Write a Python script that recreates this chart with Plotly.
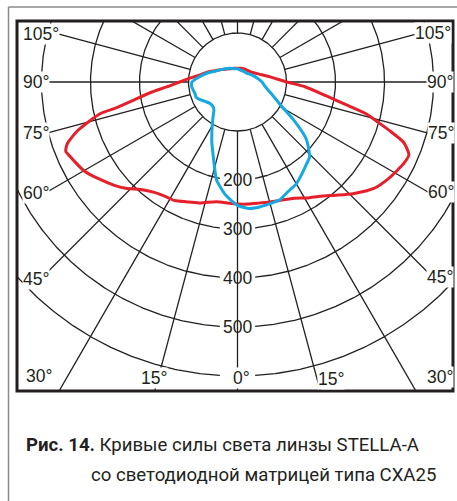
import numpy as np
import plotly.graph_objects as go

# Luminous intensity curves: angle from the nadir (deg, + to the right) and intensity
red_angle = [-180, -165, -150, -135, -120, -110, -100, -95, -90, -86, -83, -80, -78, -77,
             -73, -70, -68, -66, -63, -60, -55, -50, -46, -42, -37, -32, -28, -22, -17,
             -10, -4, 0, 5, 10, 14, 20, 26, 31, 36, 41, 46, 52, 58, 64, 67, 70, 72, 74,
             76, 78, 81, 86, 90, 99, 110, 120, 130, 142, 155, 167, 180]
red_cd = [28, 29, 31, 37, 48, 62, 80, 96, 118, 145, 180, 216, 252, 288,
          342, 370, 378, 374, 368, 362, 345, 328, 313, 295, 282, 276, 274, 264, 258,
          248, 248, 249, 250, 251, 253, 257, 264, 276, 288, 306, 328, 353, 367, 378, 380, 361, 330, 299,
          272, 230, 185, 138, 100, 67, 47, 38, 33, 31, 30, 29, 28]

blue_angle = [-180, -165, -151, -129, -113, -106, -95, -90, -84, -80, -75, -70, -66, -60,
              -52, -44, -40, -34, -28, -23, -18, -15, -12, -6, 0, 5, 10, 15, 20, 25, 30,
              35, 40, 44, 46, 50, 52, 56, 62, 68, 75, 82, 90, 100, 115, 133, 150, 167, 180]
blue_cd = [27, 28, 32, 41, 54, 65, 84, 93, 94, 92, 90, 90, 86, 78,
           71, 71, 75, 90, 111, 134, 160, 181, 205, 232, 252, 259, 259, 257, 255, 246, 240,
           229, 219, 212, 203, 184, 170, 138, 99, 80, 65, 56, 50, 42, 33, 26, 25, 25, 27]

# Grid
inner_ring = 100
ring_values = [200, 300, 400, 500, 600]
ring_labels = ["200", "300", "400", "500"]
ray_angles = list(range(-165, 181, 15))

angle_label_text = ["105°", "90°", "75°", "60°", "45°", "30°", "15°", "0°",
                    "15°", "30°", "45°", "60°", "75°", "90°", "105°"]

# page-pixel placement of the frame and the pole
PX = 0.49            # pixels per cd
CX, CY = 237.5, 82.0
FL, FR, FT, FB = 17, 453, 21, 391
W, H = 457, 501

# page-pixel centres of the angle labels (same order as angle_label_text)
angle_label_pos = [(41, 34), (36, 82), (36, 133), (36, 193), (36, 279), (39, 376), (154, 378),
                   (241, 378), (331, 379), (440, 377), (440, 277), (441, 192), (441, 133),
                   (440, 82), (433, 33)]


def polar_xy(theta_deg, r):
    t = np.radians(np.asarray(theta_deg, dtype=float))
    r = np.asarray(r, dtype=float)
    return r * np.sin(t), -r * np.cos(t)


def px_to_data(px, py):
    return (px - CX) / PX, (CY - py) / PX


GRID = "#231f20"
fig = go.Figure()

# rays from the inner circle outward
for a in ray_angles:
    aa = abs(a)
    if 45 <= aa <= 105:
        r_end = 200 / PX / np.sin(np.radians(aa))
    else:
        r_end = 2000
    x, y = polar_xy([a, a], [inner_ring, r_end])
    fig.add_trace(go.Scatter(x=x, y=y, mode="lines", line=dict(color=GRID, width=1.3),
                             hoverinfo="skip", showlegend=False))

# rings, opened around the nadir where the value labels sit
for rv in ring_values:
    gap = np.degrees(np.arcsin(min(1.0, 36 / rv)))
    th = np.linspace(gap, 360 - gap, 721)
    x, y = polar_xy(th, np.full_like(th, rv))
    fig.add_trace(go.Scatter(x=x, y=y, mode="lines", line=dict(color=GRID, width=1.3),
                             hoverinfo="skip", showlegend=False))

# inner circle
th = np.linspace(0, 360, 361)
x, y = polar_xy(th, np.full_like(th, inner_ring))
fig.add_trace(go.Scatter(x=x, y=y, mode="lines", line=dict(color=GRID, width=1.3),
                         fill="toself", fillcolor="white", hoverinfo="skip", showlegend=False))

# intensity curves
for ang, val, col in [(red_angle, red_cd, "#e5202a"), (blue_angle, blue_cd, "#16a9e1")]:
    x, y = polar_xy(ang, val)
    fig.add_trace(go.Scatter(x=x, y=y, mode="lines",
                             line=dict(color=col, width=3, shape="spline", smoothing=0.6),
                             hoverinfo="skip", showlegend=False))

LABEL_FONT = dict(family="Liberation Sans, Arial, sans-serif", size=17.5, color="#231f20")

for txt, rv in zip(ring_labels, ring_values):
    fig.add_annotation(x=0, y=-rv, text=txt, showarrow=False, font=LABEL_FONT,
                       xanchor="center", yanchor="middle")

for txt, (px, py) in zip(angle_label_text, angle_label_pos):
    x, y = px_to_data(px, py)
    fig.add_annotation(x=x, y=y, text=txt, showarrow=False, font=LABEL_FONT,
                       bgcolor="white", borderpad=0, xanchor="center", yanchor="middle")

pw, ph = FR - FL, FB - FT


def paper_x(px):
    return (px - FL) / pw


def paper_y(py):
    return (FB - py) / ph


# caption
CAP_FONT = dict(family="Roboto, sans-serif", size=18.6, color="#231f20")
fig.add_annotation(xref="paper", yref="paper", x=paper_x(24), y=paper_y(445),
                   text="<b>Рис. 14.</b> Кривые силы света линзы STELLA-A",
                   showarrow=False, xanchor="left", yanchor="middle", font=CAP_FONT)
fig.add_annotation(xref="paper", yref="paper", x=paper_x(89), y=paper_y(475),
                   text="со светодиодной матрицей типа CXA25",
                   showarrow=False, xanchor="left", yanchor="middle", font=CAP_FONT)

shapes = [
    # chart frame
    dict(type="rect", xref="paper", yref="paper", x0=0, x1=1, y0=0, y1=1,
         line=dict(color="#231f20", width=3), layer="above"),
    # outer box of the figure
    dict(type="line", xref="paper", yref="paper", x0=paper_x(8.5), x1=paper_x(460),
         y0=paper_y(7), y1=paper_y(7), line=dict(color="#8a8a8a", width=1.5)),
    dict(type="line", xref="paper", yref="paper", x0=paper_x(8.5), x1=paper_x(8.5),
         y0=paper_y(7), y1=paper_y(505), line=dict(color="#8a8a8a", width=1.5)),
]

x0, _ = px_to_data(FL, 0)
x1, _ = px_to_data(FR, 0)
_, y0 = px_to_data(0, FB)
_, y1 = px_to_data(0, FT)

fig.update_layout(
    width=W, height=H,
    margin=dict(l=FL, r=W - FR, t=FT, b=H - FB, pad=0),
    paper_bgcolor="white", plot_bgcolor="white",
    xaxis=dict(range=[x0, x1], visible=False, fixedrange=True),
    yaxis=dict(range=[y0, y1], visible=False, fixedrange=True),
    shapes=shapes,
    showlegend=False,
)

fig.write_html("out.html")
